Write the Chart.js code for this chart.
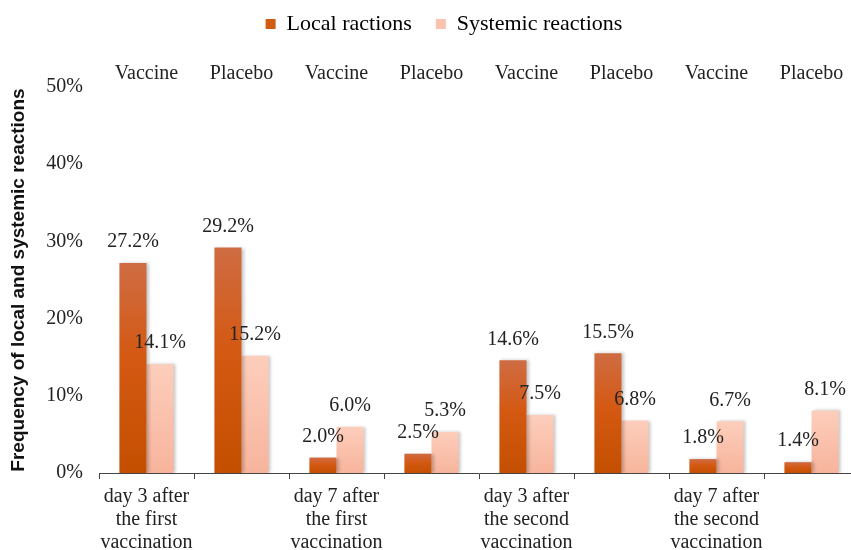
<!DOCTYPE html>
<html><head><meta charset="utf-8">
<script src="https://cdn.jsdelivr.net/npm/chart.js@4.4.1/dist/chart.umd.min.js"></script>
<style>html,body{margin:0;padding:0;background:#fff;overflow:hidden;} canvas{display:block;}</style>
</head><body>
<canvas id="c" width="880" height="550"></canvas>
<script>
const groupLabels = [['day 3 after','the first','vaccination'], '', ['day 7 after','the first','vaccination'], '', ['day 3 after','the second','vaccination'], '', ['day 7 after','the second','vaccination'], ''];
const armLabels = ['Vaccine','Placebo','Vaccine','Placebo','Vaccine','Placebo','Vaccine','Placebo'];
const localReactions = [27.2, 29.2, 2.0, 2.5, 14.6, 15.5, 1.8, 1.4];
const systemicReactions = [14.1, 15.2, 6.0, 5.3, 7.5, 6.8, 6.7, 8.1];
const seriesNames = ['Local ractions', 'Systemic reactions'];
const yTitle = 'Frequency of local and systemic reactions';

const serif = 'Liberation Serif';
const PAD_TOP = -11, PAD_LEFT = 29, LEGEND_PAD = 24;

function barGradient(stops, solid) {
  return (ctx) => {
    const chart = ctx.chart;
    const ys = chart.scales && chart.scales.y;
    if (ctx.type !== 'data' || !ys || !chart.chartArea) return solid;
    const top = ys.getPixelForValue(ctx.raw);
    const bottom = ys.getPixelForValue(0);
    if (!isFinite(top) || !isFinite(bottom) || bottom - top < 1) return solid;
    const g = chart.ctx.createLinearGradient(0, top, 0, bottom);
    stops.forEach(([o, c]) => g.addColorStop(o, c));
    return g;
  };
}

const shadowPlugin = {
  id: 'barShadow',
  beforeDatasetsDraw(chart) {
    const c = chart.ctx; c.save();
    c.shadowColor = 'rgba(0,0,0,0.22)'; c.shadowBlur = 3; c.shadowOffsetX = 2; c.shadowOffsetY = 0;
  },
  afterDatasetsDraw(chart) { chart.ctx.restore(); }
};

const valueLabels = {
  id: 'valueLabels',
  afterDatasetsDraw(chart) {
    const c = chart.ctx;
    c.save();
    c.font = '20px "' + serif + '"';
    c.fillStyle = '#222';
    c.textAlign = 'center';
    c.textBaseline = 'middle';
    chart.data.datasets.forEach((ds, i) => {
      chart.getDatasetMeta(i).data.forEach((bar, j) => {
        c.fillText(ds.data[j].toFixed(1) + '%', bar.x, bar.y - 21);
      });
    });
    c.restore();
  }
};

const solidColors = ['#D05C12', '#FBC2AD'];

new Chart(document.getElementById('c'), {
  type: 'bar',
  data: {
    labels: groupLabels,
    datasets: [
      { label: seriesNames[0], data: localReactions,
        backgroundColor: barGradient([[0,'#CF6C43'],[0.45,'#D45913'],[1,'#C44F00']], solidColors[0]),
        barPercentage: 1.0, categoryPercentage: 0.57 },
      { label: seriesNames[1], data: systemicReactions,
        backgroundColor: barGradient([[0,'#FDCEBC'],[1,'#F7B49C']], solidColors[1]),
        barPercentage: 1.0, categoryPercentage: 0.57 }
    ]
  },
  options: {
    responsive: false,
    animation: false,
    layout: { padding: { top: PAD_TOP, left: PAD_LEFT, right: 21, bottom: 0 } },
    plugins: {
      legend: {
        position: 'top',
        labels: {
          font: { family: serif, size: 22 }, color: '#222',
          boxWidth: 10, boxHeight: 10, padding: LEGEND_PAD,
          generateLabels: (chart) => chart.data.datasets.map((ds, i) => ({
            text: ds.label, fillStyle: solidColors[i], strokeStyle: solidColors[i], lineWidth: 0,
            hidden: false, datasetIndex: i
          }))
        }
      },
      tooltip: { enabled: false }
    },
    scales: {
      x: {
        position: 'bottom',
        grid: { display: true, drawOnChartArea: false, drawTicks: true, tickLength: 6, color: '#444', offset: true },
        border: { display: true, color: '#444', width: 1 },
        ticks: { font: { family: serif, size: 20, lineHeight: 1.15 }, color: '#222', autoSkip: false, maxRotation: 0, minRotation: 0, padding: 6 },
        afterFit: (s) => { s.height = 77; }
      },
      x2: {
        type: 'category', position: 'top', labels: armLabels, offset: true,
        grid: { display: false, drawTicks: false }, border: { display: false },
        ticks: { font: { family: serif, size: 20 }, color: '#222', autoSkip: false, maxRotation: 0, minRotation: 0, padding: 1 },
        afterFit: (s) => { const lh = s.chart.legend ? s.chart.legend.height : 56; s.height = 87 - PAD_TOP - lh; }
      },
      y: {
        min: 0, max: 50,
        grid: { display: false, drawTicks: false }, border: { display: false },
        ticks: { stepSize: 10, callback: (v) => v + '%', font: { family: serif, size: 20 }, color: '#222', padding: 16 },
        title: { display: true, text: yTitle, font: { family: 'Liberation Sans', size: 19, weight: 'bold' }, color: '#111', padding: { top: -22, bottom: 0 } },
        afterFit: (s) => { s.width = 99 - PAD_LEFT; }
      }
    }
  },
  plugins: [shadowPlugin, valueLabels]
});
</script>
</body></html>
